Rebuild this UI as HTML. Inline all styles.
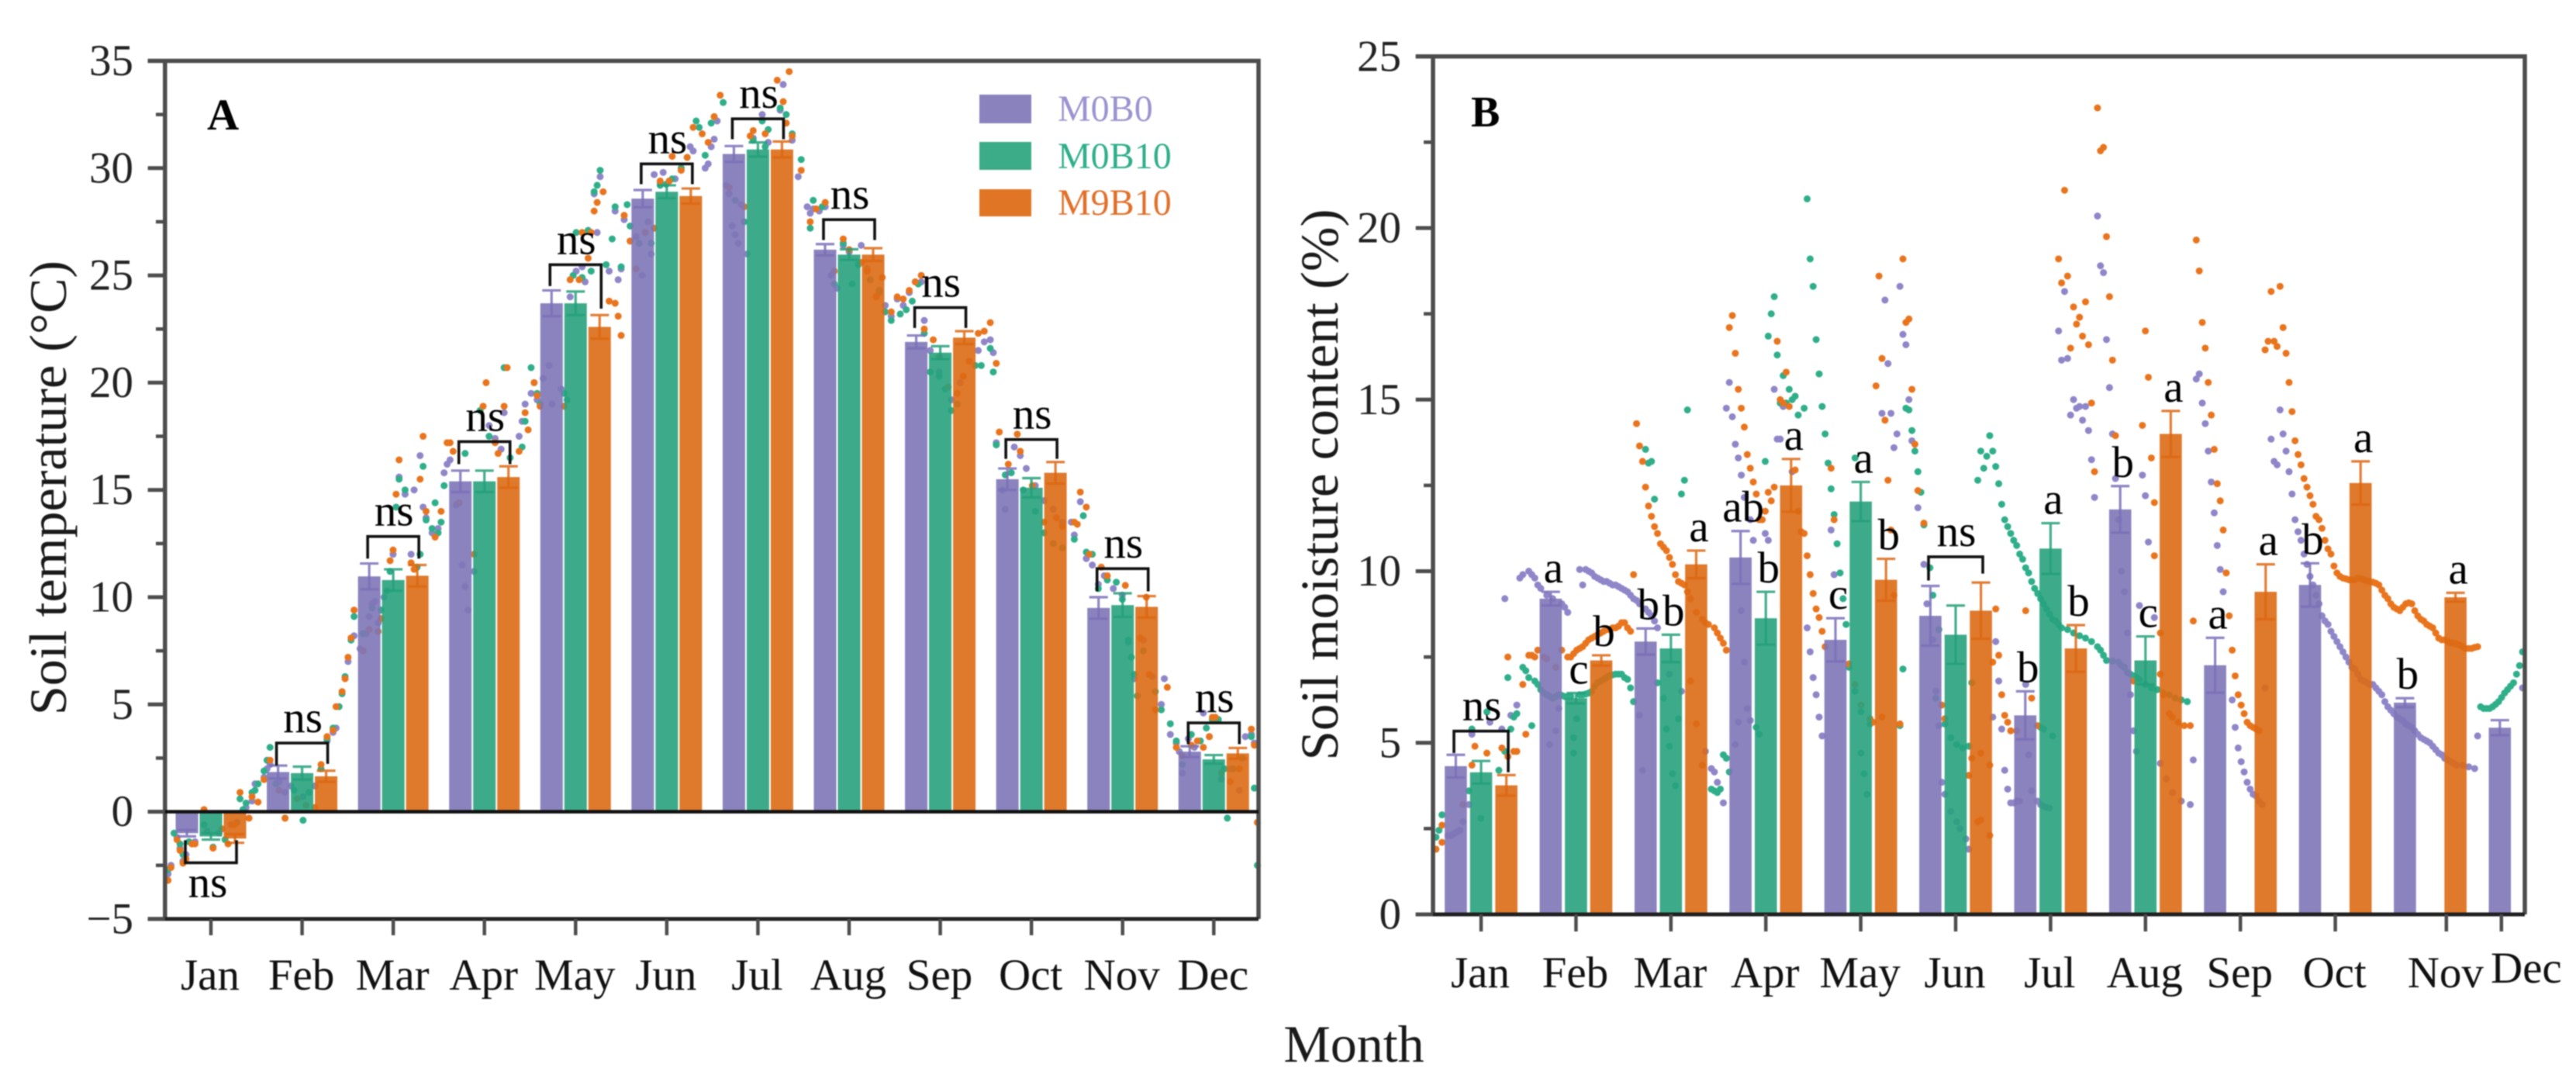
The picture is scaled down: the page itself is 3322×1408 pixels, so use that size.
<!DOCTYPE html>
<html lang="en">
<head>
<meta charset="utf-8">
<title>Soil temperature and soil moisture content by month</title>
<style>
html,body{margin:0;padding:0;background:#fff;}
#chart{display:block;filter:blur(.8px);font-family:"Liberation Serif",serif;}
</style>
</head>
<body>
<svg id="chart" xmlns="http://www.w3.org/2000/svg" width="3322" height="1408" viewBox="0 0 3322 1408">
  <rect x="0" y="0" width="3322" height="1408" fill="#fff"/>
  <g id="panelA"></g>
  <g id="panelB"></g>
  <text x="267" y="167" font-size="57" font-weight="bold" fill="#000">A</text>
  <text x="1897" y="163" font-size="56" font-weight="bold" fill="#000">B</text>
  <text transform="translate(85,629) rotate(-90)" text-anchor="middle" font-size="68" fill="#1a1a1a">Soil temperature (°C)</text>
  <text transform="translate(1725,625) rotate(-90)" text-anchor="middle" font-size="69" fill="#1a1a1a">Soil moisture content (%)</text>
  <text x="1746" y="1369" text-anchor="middle" font-size="68" fill="#1a1a1a">Month</text>
  <g>
    <rect x="1263" y="122" width="67" height="37" fill="#8a82bd"/>
    <rect x="1263" y="183" width="67" height="36" fill="#3cab88"/>
    <rect x="1263" y="244" width="67" height="35" fill="#e07525"/>
    <text x="1364" y="156" font-size="48" fill="#9a93cf">M0B0</text>
    <text x="1364" y="217" font-size="48" fill="#2fae8a">M0B10</text>
    <text x="1364" y="277" font-size="48" fill="#e0702a">M9B10</text>
  </g>
</svg>
<script>
const months = ['Jan','Feb','Mar','Apr','May','Jun','Jul','Aug','Sep','Oct','Nov','Dec'];
const seriesNames = ['M0B0','M0B10','M9B10'];

const tempTicks = [-5,0,5,10,15,20,25,30,35];
const tempM0B0 = [-1.0,1.85,10.97,15.4,23.7,28.58,30.66,26.2,21.9,15.5,9.5,2.8];
const tempM0B10 = [-1.15,1.8,10.8,15.4,23.7,28.9,30.87,25.97,21.4,15.1,9.63,2.44];
const tempM9B10 = [-1.25,1.65,11.0,15.6,22.6,28.7,30.87,25.97,22.1,15.8,9.55,2.72];
const tempErrM0B0 = [0.15,0.3,0.6,0.5,0.6,0.4,0.37,0.26,0.3,0.5,0.5,0.25];
const tempErrM0B10 = [0.15,0.3,0.5,0.5,0.55,0.3,0.33,0.25,0.3,0.45,0.55,0.2];
const tempErrM9B10 = [0.2,0.26,0.5,0.5,0.55,0.35,0.37,0.3,0.3,0.5,0.5,0.25];
const tempBracketTop = [-2.38,3.2,12.83,17.25,25.5,30.2,32.3,27.6,23.5,17.35,11.33,4.14];
const tempBracketLeftEnd = [-1.33,2.15,11.8,16.2,24.5,29.25,31.35,26.65,22.55,16.45,10.27,3.15];
const tempBracketRightEnd = [-1.33,2.23,11.8,16.2,23.45,29.25,31.35,26.65,22.55,16.45,10.27,3.15];

const tempDailyM0B0 = [[1,-2.9],[2,-2.5],[4,-1.2],[5,-1.7],[6,-2.3],[7,-2],[9,-1.5],[10,-1.4],[14,-.9],[18,-1],[22,-.6],[27,.2],[29,.5],[30,1.3],[33,1.6],[34,2],[35,2.2],[38,1.4],[40,.9],[42,1.2],[46,.7],[50,1.2],[54,3.3],[56,3.7],[57,3.9],[61,7],[63,8.2],[65,7.6],[66,7.5],[67,8.3],[68,9.1],[69,9.7],[70,9.8],[71,8.8],[73,10],[76,12],[78,15.6],[80,14.8],[82,12],[83,15],[85,16.6],[86,14.2],[87,13.7],[89,13],[91,13.2],[93,15.8],[94,16.2],[95,16.4],[97,14.3],[99,11.5],[100,10.5],[101,9.4],[103,11.2],[108,18],[110,17.4],[112,16.9],[113,18.6],[118,17.5],[119,18.2],[120,19],[122,19.5],[124,19.2],[126,20.2],[128,20.8],[129,19],[132,19.7],[135,24],[137,25.2],[139,25.4],[140,24.7],[143,28.8],[144,27],[145,29.6],[148,25.2],[150,28],[151,24.8],[152,25.3],[153,27.6],[155,26.6],[157,26.8],[159,25],[161,27.5],[162,26],[163,29.7],[165,29.3],[166,29.8],[170,29.5],[172,30],[175,31],[176,30.8],[180,30],[181,30.2],[182,31],[183,31.35],[184,32.2],[187,29.2],[188,28.8],[189,27.3],[190,26.9],[191,26.5],[192,28.3],[194,26],[196,31.4],[199,32.5],[201,31.2],[205,32.7],[206,33.9],[209,31.3],[211,29.6],[214,28.2],[215,27.9],[216,28.1],[218,28],[220,28.2],[222,25],[224,24.4],[226,26.4],[228,26.1],[232,26.4],[234,25.3],[238,24.2],[240,23.6],[242,23.1],[244,23.9],[246,23.6],[248,24.2],[250,24.7],[252,24.7],[253,22.9],[255,21.5],[258,20.5],[262,19.2],[265,20],[268,21],[271,21.5],[273,21.9],[275,22],[276,21.4],[277,17.2],[279,15],[280,14.1],[283,17],[285,16.6],[287,16],[290,15.2],[293,14.5],[296,14.1],[299,13.5],[302,13.5],[303,12.9],[305,14.45],[307,11.8],[309,11.5],[311,10.6],[313,11],[316,10.4],[319,10.1],[321,7.9],[323,6.2],[326,8],[329,6.3],[332,5],[333,6.2],[335,3.6],[337,3.2],[338,2.8],[339,1.8],[341,3.4],[343,3],[346,4.6],[348,3.5],[350,4.3],[352,1.5],[355,2],[358,1],[360,3.5],[362,3.6],[363,3.2]];

const tempDailyM0B10 = [[1,-2.7],[3,-1.0],[5,-1.5],[6,-2.0],[8,-1.4],[13,-.6],[16,-1.65],[20,-1.3],[24,-.5],[25,.6],[26,.1],[27,.4],[29,.9],[30,1],[31,1.3],[33,1.9],[34,2.4],[35,3],[37,1.3],[40,-.3],[43,1],[46,-.4],[48,.9],[52,2],[54,3.4],[56,3.9],[58,4.9],[59,5.5],[60,6.3],[62,8],[63,9.1],[66,8.3],[69,9.5],[72,9.4],[74,10.3],[75,11.2],[77,14.2],[78,15.5],[80,15],[84,11.4],[85,12],[86,16.1],[87,13.6],[89,13.2],[90,14.4],[91,13],[92,13.5],[93,15.2],[100,16.7],[105,18.7],[108,17.5],[113,20.7],[115,16.5],[119,17],[120,18.2],[122,20.7],[123,20],[124,19.5],[125,19],[133,19.5],[134,19.2],[136,25],[137,27],[139,24.9],[141,27.1],[142,25.2],[143,28.9],[144,29.2],[145,29.9],[147,25.5],[149,26.7],[150,28.2],[152,25.4],[154,28.3],[155,27.3],[158,26.5],[162,26.5],[165,29.2],[167,29.25],[169,29.5],[172,30],[174,30.5],[177,32.2],[178,31.9],[180,30.6],[182,32.1],[183,32.4],[186,33.06],[190,28.5],[193,27.5],[196,31.3],[199,32.2],[200,31],[201,31.8],[205,32.8],[207,32.5],[209,31.6],[212,30.4],[215,27.2],[216,28.5],[219,28.2],[223,24.6],[226,26.5],[229,24.6],[231,25.5],[235,24.8],[238,24.3],[240,23.3],[242,22.9],[245,23.2],[247,23.4],[249,23.8],[251,24.6],[253,22.3],[255,20.5],[258,20.3],[260,19.7],[262,18.7],[264,19],[270,20.8],[272,20.8],[275,21.6],[276,20.5],[277,17.1],[280,15.7],[282,15.8],[286,15],[290,14],[293,13],[296,12.5],[299,12.3],[303,12.7],[306,13.8],[307,12.1],[309,12],[311,10.4],[314,10.8],[317,10.7],[319,9.9],[321,8],[322,7.2],[323,6.4],[324,5.4],[326,7.5],[330,5.6],[332,4.75],[335,4.1],[337,3.3],[339,2.2],[342,3.6],[345,3.3],[347,3.9],[349,4.3],[351,4.3],[353,2],[354,-.3],[356,2],[359,2.5],[362,3.5],[363,1.1],[364,-2.5]];

const tempDailyM9B10 = [[1,-3.2],[2,-2.6],[4,-1.3],[5,-1.8],[6,-2.4],[7,-2.2],[9,-1.5],[10,-1.5],[13,.1],[16,-1.7],[19,-.8],[21,-1.5],[23,-.6],[25,.9],[28,-.3],[29,.7],[31,.45],[33,1.5],[35,2.4],[38,1],[40,-.3],[44,.6],[47,.3],[50,.2],[52,2.2],[54,3.5],[56,3.8],[57,4.9],[59,5.6],[60,6.2],[61,7.2],[62,8.1],[63,9.4],[66,7.5],[68,8.5],[71,8.4],[72,9],[75,11.7],[76,12.2],[78,16.4],[77,14.8],[82,11.6],[83,11.3],[85,15.5],[86,17.5],[87,14],[90,12.8],[92,14],[94,17.2],[95,17.2],[96,16.8],[98,14.4],[103,12],[106,18.9],[107,20],[110,17.2],[111,16.7],[113,18.9],[114,20.7],[118,16.8],[120,18.6],[121,17.8],[123,20],[124,19.4],[125,18.9],[133,18.9],[135,24.8],[138,24.8],[139,27],[141,25.8],[142,27],[143,28],[144,28.4],[146,28.9],[148,23.8],[150,23.7],[151,23.1],[152,22.2],[153,27.8],[155,26.6],[157,25.3],[160,27],[163,27.2],[165,29.4],[168,29.4],[169,30.55],[172,29.9],[174,30.5],[176,31.9],[179,31.6],[181,31.2],[183,32.4],[185,33.4],[188,29.1],[193,28.2],[195,31.5],[196,31.75],[200,31.6],[204,34.1],[206,33.1],[207,32.1],[208,34.5],[209,31.5],[212,29.9],[215,27.5],[217,28.1],[220,28.4],[223,25.2],[226,26.7],[228,26.2],[232,25.6],[234,25.2],[237,24],[239,24.9],[242,23.3],[244,24],[246,23.9],[248,24.3],[250,24.7],[252,25],[253,22.5],[256,22],[258,21.2],[261,19.8],[264,19.5],[266,20.3],[268,21],[271,22.3],[273,22.4],[275,22.8],[277,20.9],[278,17.7],[281,16.2],[284,17.6],[285,16.8],[289,15.2],[293,13.5],[297,13.7],[299,13.3],[303,13.5],[304,13.4],[305,14.9],[307,14.2],[308,12],[312,11.4],[314,11],[320,10.55],[327,10],[325,8.1],[328,6.4],[330,4.75],[334,5.8],[337,3],[339,2.6],[342,3.1],[344,3.3],[346,3],[348,3.5],[349,4.4],[350,4.4],[352,1.8],[355,1.4],[358,2],[362,3.85],[363,3.1],[364,-.5]];

const moistTicks = [0,5,10,15,20,25];
const moistTickPositions = [0,1,2,3,4,5,6,7,8,9,10.17,10.75];
const moistLabelPositions = [0,1,2,3,4,5,6,7,8,9,10.17,11.02];
const moistM0B0 = [4.32,9.2,7.95,10.4,8.0,8.7,5.8,11.8,7.26,9.6,6.17,5.44];
const moistM0B10 = [4.14,6.3,7.75,8.63,12.03,8.15,10.66,7.4,null,null,null,null];
const moistM9B10 = [3.76,7.4,10.2,12.5,9.75,8.85,7.75,14,9.4,12.57,9.24,null];
const moistErrM0B0 = [0.33,0.2,0.38,0.77,0.63,0.87,0.7,0.68,0.8,0.63,0.13,0.22];
const moistErrM0B10 = [0.33,0.15,0.4,0.77,0.57,0.85,0.74,0.7,null,null,null,null];
const moistErrM9B10 = [0.3,0.15,0.4,0.77,0.61,0.82,0.68,0.67,0.8,0.63,0.13,null];
const moistLettersM0B0 = ['', 'a','b','ab','c','', 'b','b','a','b','b','' ];
const moistLettersM0B10 = ['', 'c','b','b','a','', 'a','c','','','','' ];
const moistLettersM9B10 = ['', 'b','a','a','b','', 'b','a','a','a','a','' ];
const moistBracketMonths = [0,5];
const moistBracketTop = [5.34,10.42];
const moistBracketLeftEnd = [4.7,9.73];
const moistBracketRightEnd = [4.14,9.93];

const moistDailyM0B0 = [[5,2.3],[6,2.3],[7,2.35],[8,2.4],[9,2.45],[10,2.7],[12,3.2],[13,5.25],[19,5.6],[23,5.4],[24,9.2],[26,5.8],[28,6.1],[29,9.8],[30,9.9],[32,10],[33,9.9],[34,9.8],[35,9.6],[36,9.5],[38,9.3],[39,4.95],[40,9.2],[41,5.35],[42,6],[43,9.05],[44,8.95],[45,8.8],[49,10.05],[50,9.6],[51,10.05],[52,10],[53,9.95],[54,9.85],[55,9.8],[56,9.75],[57,9.7],[58,9.7],[59,9.65],[60,9.6],[61,9.6],[62,9.55],[63,9.5],[64,9.45],[65,9.4],[66,9.3],[67,9.2],[68,9.15],[69,9.05],[70,4.2],[69,5.8],[71,8.9],[72,8.8],[73,8.7],[74,8.55],[75,8.35],[79,7],[83,6.5],[91,4.75],[93,4.25],[94,4.15],[95,3.85],[97,3.25],[98,14.75],[99,15.5],[100,14.5],[101,13.7],[102,13.3],[103,12.8],[104,12.15],[106,11.5],[107,10.9],[111,11.1],[112,10.9],[101,4.95],[102,5.6],[103,8.85],[104,7.35],[105,6],[106,5.65],[114,15.3],[115,13.85],[116,13.85],[117,14.8],[120,12.9],[125,8.35],[126,7.65],[127,6.9],[128,6.4],[129,5.75],[130,5.2],[134,9.9],[133,11.2],[150,14.6],[151,17.9],[152,16.05],[153,14.6],[154,13.6],[155,14],[156,18.3],[157,16.9],[158,16.6],[159,15],[160,13.8],[162,11.85],[164,10.2],[165,9.05],[167,8],[168,6.5],[169,5.5],[170,3.85],[171,3.5],[173,3],[175,2.7],[176,2.5],[178,2.2],[179,1.9],[187,5.75],[188,7.95],[189,6.8],[190,5.4],[191,4.2],[192,3.65],[193,3.25],[194,3.25],[195,3.3],[196,3.3],[198,6.7],[199,4.65],[200,3.6],[202,3.3],[203,3.2],[204,3.15],[205,3.12],[206,3.1],[209,17],[210,16.15],[211,18.15],[212,16.2],[213,14.55],[214,15],[215,14.75],[216,14.8],[217,14.4],[218,14.8],[219,14.1],[220,13.25],[221,12.15],[222,20.35],[223,18.9],[224,18.7],[225,16.75],[226,15.35],[227,14],[228,12.7],[229,11.5],[230,10],[231,9.4],[232,8.2],[233,6.4],[234,5.35],[235,4.75],[236,9],[237,12.8],[238,12.2],[239,10.85],[241,8.65],[243,4.4],[245,3.95],[247,3.55],[250,3.3],[253,3.2],[254,4.5],[255,15.6],[256,15.75],[257,14.9],[258,14.3],[259,13.5],[260,12.6],[261,11.7],[262,10.75],[263,10.05],[264,9.4],[267,6.25],[268,5.45],[269,4.85],[270,4.45],[271,4.15],[272,3.85],[273,3.65],[274,3.5],[275,3.45],[276,3.3],[277,3.2],[278,6.6],[280,13.85],[281,13.2],[282,13.1],[283,14.7],[284,14],[285,13.5],[286,12.9],[287,12.25],[288,11.5],[289,11.15],[290,10.9],[291,10.5],[292,10.2],[293,9.85],[294,9.6],[295,9.3],[296,9.05],[297,8.7],[298,8.55],[299,8.45],[300,8.25],[301,8.1],[302,7.95],[303,7.8],[304,7.65],[305,7.5],[306,7.35],[307,7.2],[308,7.15],[309,7],[310,6.85],[311,6.8],[312,6.75],[313,6.7],[314,6.7],[315,6.6],[316,6.5],[317,6.4],[318,6.2],[319,6.05],[320,5.95],[321,5.85],[322,5.75],[323,5.7],[324,5.65],[325,5.55],[326,5.5],[327,5.45],[328,5.35],[329,5.25],[330,5.15],[331,5.1],[332,5.05],[333,5],[334,4.9],[335,4.8],[336,4.7],[337,4.65],[338,4.55],[339,4.5],[340,4.45],[341,4.4],[342,4.35],[344,4.35],[346,4.3],[348,4.25],[349,5.2],[364,6.6]];

const moistDailyM0B10 = [[1,2.25],[2,2.45],[3,2.9],[12,3.6],[13,5.4],[16,2.8],[18,5.9],[22,4.2],[24,4.75],[25,6.9],[26,5.4],[27,5.75],[28,5.85],[30,7.2],[31,7.1],[32,6.9],[33,5.5],[34,6.8],[35,6.7],[36,6.55],[37,6.45],[38,6.4],[39,6.35],[40,6.3],[41,6.35],[42,6.4],[43,6.38],[44,6.35],[45,6.35],[46,6.35],[47,4.7],[47,5.15],[48,5.7],[49,6.4],[50,6.4],[51,6.42],[52,6.45],[53,6.5],[54,6.65],[55,6.75],[56,6.8],[57,6.85],[58,6.9],[59,6.95],[60,6.98],[61,7],[62,7],[63,7],[64,6.9],[65,6.85],[66,6.6],[67,6.2],[71,13.55],[72,13.15],[73,13.2],[74,12.1],[75,6.75],[77,6.3],[78,5.4],[79,4.9],[80,4.1],[81,3.75],[82,5.7],[83,12.25],[84,12.65],[85,14.7],[93,3.65],[94,3.6],[95,3.55],[96,3.65],[97,4.65],[98,4.55],[99,4.15],[108,5.45],[109,5.25],[111,13.2],[112,16.85],[113,17.5],[114,18],[115,16.3],[116,14.9],[117,15.7],[118,14.9],[119,15.3],[120,15],[121,15.1],[122,14.55],[124,14.75],[125,20.85],[126,19.1],[127,18.3],[128,16.75],[129,15.75],[130,14.8],[131,14],[132,13.15],[133,12.4],[134,11.65],[135,10.8],[136,9.95],[137,9.2],[138,8.45],[139,7.2],[141,6.5],[141,13.3],[143,5.9],[143,4.7],[144,4.1],[145,3.5],[146,5.55],[156,5.5],[157,7.15],[158,14.75],[159,14.7],[160,14.1],[161,13.5],[162,12.9],[163,12.3],[164,11.35],[166,10.1],[167,9.3],[168,6.3],[169,8.3],[171,5.55],[173,5.15],[175,4.95],[177,4.85],[179,4.9],[180,6.75],[182,12.65],[183,13.5],[184,13],[185,13.35],[186,13.95],[187,13.5],[188,13.05],[189,12.55],[190,11.95],[191,11.5],[192,11.3],[193,11.1],[194,10.9],[195,10.75],[196,10.5],[197,10.35],[198,10.1],[199,9.95],[200,9.7],[201,9.5],[202,9.35],[203,9.2],[204,9.05],[205,8.9],[206,8.75],[207,8.6],[208,8.55],[209,8.45],[210,8.35],[212,8.3],[214,8.2],[216,8.12],[218,8.05],[220,7.95],[222,7.8],[223,7.7],[224,7.55],[225,7.4],[227,7.38],[229,7.35],[230,7.25],[231,7.2],[232,7.05],[233,7],[234,6.95],[235,6.9],[236,6.85],[238,6.7],[240,6.6],[242,6.55],[244,6.45],[246,6.4],[248,6.3],[250,6.25],[252,6.2],[203,5.45],[204,5.4],[207,5.2],[350,6.05],[351,6],[352,6],[353,6],[354,6.05],[355,6.12],[356,6.2],[357,6.32],[358,6.45],[359,6.55],[360,6.65],[361,6.75],[362,7],[363,7.25],[364,7.65]];

const moistDailyM9B10 = [[1,1.9],[3,2.1],[3,2.6],[10,3.2],[13,4.35],[14,4.9],[18,4.7],[23,4.85],[25,4.6],[25,7.5],[27,4.75],[28,4.75],[30,6.7],[31,5.25],[32,7.55],[33,7.55],[34,7.5],[35,7.7],[37,7.5],[38,7.45],[41,7.2],[43,7.7],[45,7.5],[46,7.5],[47,7.6],[48,7.7],[49,7.75],[50,7.8],[51,7.9],[52,8],[53,8.05],[54,8.1],[55,8.15],[56,8.2],[57,8.25],[58,8.3],[59,8.3],[60,8.35],[61,8.35],[62,8.4],[63,8.5],[64,8.5],[65,8.35],[66,8.25],[67,9.9],[68,14.3],[69,13.65],[70,13.2],[71,12.45],[72,11.9],[73,11.6],[74,11.3],[75,11.1],[76,10.8],[77,10.7],[78,10.6],[79,10.4],[80,10.2],[81,9.9],[82,9.7],[83,9.65],[84,9.6],[85,9.4],[86,9.2],[86,6.8],[88,5.55],[88,8.8],[90,4.35],[90,8.6],[91,8.5],[92,8.45],[94,8.35],[95,8.2],[96,8.05],[97,7.9],[98,7.7],[99,17.1],[100,17.45],[101,16.35],[102,15.3],[103,14.75],[104,14.2],[105,13.4],[106,13],[107,12.6],[108,12.25],[109,11.5],[110,11.5],[111,11.75],[112,12.3],[113,12.05],[114,12.45],[115,16.7],[116,15],[117,14.9],[118,15.8],[119,14.8],[121,12.95],[122,11.75],[123,11.15],[124,11.1],[125,10.45],[126,9.9],[127,9.35],[128,8.9],[129,8.65],[130,8.25],[131,7.8],[133,13],[134,11.5],[139,7.3],[141,6.7],[143,6.1],[146,5.7],[148,15.4],[147,5.6],[149,18.6],[150,16.2],[150,5.75],[151,14.4],[152,12.65],[153,11.2],[154,9.3],[156,5.55],[157,19.1],[158,17.25],[159,17.35],[160,15.3],[161,13.7],[162,12.35],[164,11.4],[170,6.1],[171,5.7],[179,4.05],[180,4.55],[182,2.7],[183,2.75],[183,4.7],[186,4.35],[186,2.3],[187,7.35],[188,8.9],[189,7.55],[190,6.4],[191,5.8],[192,5.6],[193,5.35],[195,5.35],[198,8.85],[200,6.3],[202,5.5],[209,19.1],[210,18.4],[211,21.1],[212,18.6],[213,16.5],[214,17.7],[215,17.2],[216,17.4],[217,16.85],[218,17.85],[219,16.6],[220,14.9],[221,12.9],[222,23.5],[223,22.25],[224,22.35],[225,19.75],[226,18],[227,16.15],[228,13.95],[234,6.8],[237,14.25],[238,17],[239,15.65],[240,13.3],[241,12],[241,10.45],[243,8.2],[243,7],[244,6.4],[246,5.85],[247,5.75],[249,5.6],[251,5.5],[253,5.5],[254,8.55],[255,19.65],[256,18.75],[257,17.25],[258,16.5],[259,15.5],[260,14.55],[261,13.55],[262,12.55],[263,12.05],[264,11.2],[265,9.95],[266,8.7],[267,7.7],[268,6.95],[269,6.4],[270,6.1],[271,5.85],[272,5.6],[273,5.5],[274,5.45],[275,5.4],[276,5.35],[278,16.45],[279,16.7],[280,18.15],[281,16.7],[282,16.55],[283,18.3],[284,17.1],[285,16.35],[286,15.5],[287,14.65],[288,13.8],[289,13.4],[290,13.1],[291,12.7],[292,12.45],[293,12.2],[294,11.95],[295,11.6],[296,11.5],[297,11.25],[298,10.9],[299,10.65],[300,10.5],[301,10.15],[302,9.95],[303,9.85],[304,9.8],[305,9.78],[306,9.75],[307,9.75],[308,9.75],[309,9.8],[310,9.78],[311,9.75],[312,9.72],[313,9.7],[314,9.68],[315,9.65],[316,9.6],[317,9.45],[318,9.3],[319,9.2],[320,9.05],[321,8.95],[322,8.9],[323,8.85],[324,8.95],[325,9.05],[326,9.08],[327,9.05],[328,8.85],[329,8.7],[330,8.6],[331,8.55],[332,8.45],[333,8.4],[334,8.35],[335,8.2],[336,8.05],[337,8],[338,8],[339,7.95],[340,7.92],[341,7.9],[342,7.88],[343,7.85],[344,7.8],[345,7.75],[346,7.75],[347,7.75],[348,7.78],[349,7.8]];

const NS = 'http://www.w3.org/2000/svg';
function mk(tag, attrs, parent, txt) {
  const e = document.createElementNS(NS, tag);
  for (const k in attrs) e.setAttribute(k, attrs[k]);
  if (txt !== undefined) e.textContent = txt;
  parent.appendChild(e);
  return e;
}
const barFill = ['#7e75b6','#28a27d','#dc6a14'];
const dotFill = ['#8e86c8','#2fae8a','#e8751e'];
const errStroke = ['#7a70b8','#239f78','#dc6712'];
const seriesKey = ['m0b0','m0b10','m9b10'];

function drawPanel(cfg) {
  const root = document.getElementById(cfg.id);
  const y = v => cfg.yZero - v * cfg.yPerUnit;
  const xDay = d => cfg.xLeft + d * cfg.dayPx;
  const xGroup = i => cfg.groupStart + i * cfg.groupStep;

  const dotsLayer = mk('g', {}, root);
  
  
  cfg.daily.forEach((arr, s) => {
    arr.forEach(p => {
      const c = mk('circle', {cx: xDay(p[0]), cy: y(p[1]), r: 4.5, fill: dotFill[s]}, dotsLayer);
      
      
    });
  });

  const barsLayer = mk('g', {}, root);
  
  
  months.forEach((m, i) => {
    cfg.values.forEach((vals, s) => {
      const v = vals[i];
      if (v === null) return;
      const cx = xGroup(i) + (s - 1) * cfg.barOffset;
      const r = mk('rect', {x: cx - cfg.barWidth / 2, y: Math.min(y(v), y(0)), width: cfg.barWidth, height: Math.abs(y(v) - y(0)), fill: barFill[s], opacity: 0.9}, barsLayer);
      
      
      const err = cfg.errors[s][i];
      const dir = v < 0 ? -1 : 1;
      const up = y(v + dir * err), low = y(v - dir * err);
      const eb = mk('path', {d: 'M' + cx + ' ' + up + 'V' + low + 'M' + (cx - 12) + ' ' + up + 'H' + (cx + 12) + 'M' + (cx - 12) + ' ' + low + 'H' + (cx + 12), fill: 'none', stroke: errStroke[s], 'stroke-width': 3.2, opacity: 0.85}, barsLayer);
      
      
    });
  });

  const axes = mk('g', {stroke: '#4d4d4d', fill: 'none'}, root);
  
  
  const yMax = cfg.yTicks[cfg.yTicks.length - 1], yMin = cfg.yTicks[0];
  const frame = mk('path', {d: 'M' + cfg.majorLeft + ' ' + y(yMax) + 'H' + cfg.xRight + 'V' + y(yMin) + 'M' + cfg.xLeft + ' ' + y(yMax) + 'V' + y(yMin), 'stroke-width': 5.5}, axes);
  
  
  const bottom = mk('path', {d: 'M' + cfg.majorLeft + ' ' + y(yMin) + 'H' + cfg.xRight, stroke: '#222', 'stroke-width': 5}, axes);
  
  
  if (yMin < 0) {
    const z = mk('path', {d: 'M' + cfg.majorLeft + ' ' + y(0) + 'H' + cfg.xRight, stroke: '#111', 'stroke-width': 4.5}, axes);
    
    
  }
  cfg.yTicks.forEach((t, i) => {
    const tk = mk('path', {d: 'M' + cfg.majorLeft + ' ' + y(t) + 'H' + cfg.xLeft, 'stroke-width': 5}, axes);
    
    
    const lb = mk('text', {x: cfg.labelRight, y: y(t) + 18.5, 'text-anchor': 'end', 'font-size': 57, fill: '#222', stroke: 'none'}, root, t < 0 ? '\u2212' + Math.abs(t) : String(t));
    
    
    if (i < cfg.yTicks.length - 1) {
      const mid = (t + cfg.yTicks[i + 1]) / 2;
      const mn = mk('path', {d: 'M' + cfg.minorLeft + ' ' + y(mid) + 'H' + cfg.xLeft, 'stroke-width': 4.5}, axes);
      
      
    }
  });
  months.forEach((m, i) => {
    const tx = xGroup(cfg.tickPos[i]);
    const tk = mk('path', {d: 'M' + tx + ' ' + y(yMin) + 'v' + cfg.tickLen, 'stroke-width': 4.5}, axes);
    
    
    const lb = mk('text', {x: xGroup(cfg.labelPos[i]) - 1, y: cfg.labelY - (i === 11 && cfg.prefix === 'moisture' ? 6 : 0), 'text-anchor': 'middle', 'font-size': 57, fill: '#111'}, root, m);
    
    
  });

  cfg.brackets.forEach(b => {
    const cx = xGroup(b.month);
    const x1 = cx - cfg.bracketHalf, x2 = cx + cfg.bracketHalf;
    const br = mk('path', {d: 'M' + x1 + ' ' + y(b.left) + 'V' + y(b.top) + 'H' + x2 + 'V' + y(b.right), fill: 'none', stroke: '#111', 'stroke-width': 3.6}, root);
    
    
    const below = b.top < b.left;
    const ns = mk('text', {x: cx + (below ? -4 : 1), y: below ? y(b.top) + 44 : y(b.top) - 14, 'text-anchor': 'middle', 'font-size': 57, fill: '#000'}, root, 'ns');
    
    
  });

  if (cfg.letters) {
    months.forEach((m, i) => {
      cfg.letters.forEach((arr, s) => {
        if (!arr[i]) return;
        const v = cfg.values[s][i] + cfg.errors[s][i];
        const t = mk('text', {x: xGroup(i) + (s - 1) * cfg.barOffset + 3.5, y: y(v) - 12, 'text-anchor': 'middle', 'font-size': 57, fill: '#000'}, root, arr[i]);
        
        
      });
    });
  }
}

const identityPositions = months.map((m, i) => i);

drawPanel({
  id: 'panelA', prefix: 'temperature',
  yZero: 1046.6, yPerUnit: 27.66, yTicks: tempTicks,
  xLeft: 212.8, xRight: 1623, dayPx: 3.87,
  groupStart: 272, groupStep: 117.57, barOffset: 31, barWidth: 29,
  majorLeft: 190.6, minorLeft: 201, labelRight: 172, tickLen: 21, labelY: 1276,
  tickPos: identityPositions, labelPos: identityPositions, bracketHalf: 33,
  values: [tempM0B0, tempM0B10, tempM9B10],
  errors: [tempErrM0B0, tempErrM0B10, tempErrM9B10],
  daily: [tempDailyM0B0, tempDailyM0B10, tempDailyM9B10],
  brackets: months.map((m, i) => ({month: i, top: tempBracketTop[i], left: tempBracketLeftEnd[i], right: tempBracketRightEnd[i]}))
});

drawPanel({
  id: 'panelB', prefix: 'moisture',
  yZero: 1179, yPerUnit: 44.25, yTicks: moistTicks,
  xLeft: 1848, xRight: 3256, dayPx: 3.86,
  groupStart: 1910, groupStep: 122.4, barOffset: 32.6, barWidth: 28.6,
  majorLeft: 1825.7, minorLeft: 1836, labelRight: 1807, tickLen: 22, labelY: 1273,
  tickPos: moistTickPositions, labelPos: moistLabelPositions, bracketHalf: 35,
  values: [moistM0B0, moistM0B10, moistM9B10],
  errors: [moistErrM0B0, moistErrM0B10, moistErrM9B10],
  daily: [moistDailyM0B0, moistDailyM0B10, moistDailyM9B10],
  letters: [moistLettersM0B0, moistLettersM0B10, moistLettersM9B10],
  brackets: moistBracketMonths.map((m, i) => ({month: m, top: moistBracketTop[i], left: moistBracketLeftEnd[i], right: moistBracketRightEnd[i]}))
});
</script>
</body>
</html>
